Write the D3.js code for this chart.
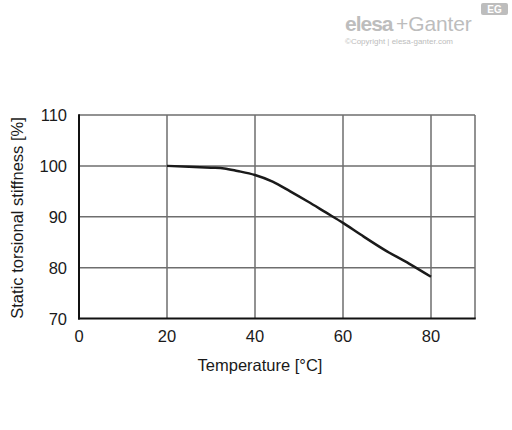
<!DOCTYPE html>
<html><head><meta charset="utf-8">
<script src="https://cdn.jsdelivr.net/npm/d3@7"></script>
<style>body{margin:0;background:#fff}svg{display:block}</style>
</head><body>
<svg id="c" width="512" height="430"></svg>
<script>
const temps  = [20, 25, 30, 33, 36, 40, 44, 48, 52, 56, 60, 64, 70, 75, 80];
const values = [100, 99.85, 99.65, 99.5, 99.0, 98.2, 96.9, 95.0, 93.0, 90.9, 88.8, 86.5, 83.2, 80.8, 78.2];
const xTicks = [0, 20, 40, 60, 80];
const yTicks = [70, 80, 90, 100, 110];
const xTitle = "Temperature [°C]";
const yTitle = "Static torsional stiffness [%]";

const svg = d3.select("#c");
const font = "Liberation Sans, Arial, sans-serif";
const x = d3.scaleLinear().domain([0, 90]).range([79, 475]);
const y = d3.scaleLinear().domain([70, 110]).range([318.5, 115]);

// grid
const g = svg.append("g");
g.selectAll(".vg").data(xTicks.slice(1)).join("line")
  .attr("x1", d => x(d)).attr("x2", d => x(d)).attr("y1", y(110)).attr("y2", y(70))
  .attr("stroke", "#6e6e6e").attr("stroke-width", 1.5);
g.selectAll(".hg").data(yTicks.slice(1)).join("line")
  .attr("x1", x(0)).attr("x2", x(90)).attr("y1", d => y(d)).attr("y2", d => y(d))
  .attr("stroke", "#6e6e6e").attr("stroke-width", 1.5);
g.append("line").attr("x1", x(90)).attr("x2", x(90)).attr("y1", y(110)).attr("y2", y(70))
  .attr("stroke", "#6e6e6e").attr("stroke-width", 1.5);
// axes (left/bottom darker)
g.append("line").attr("x1", x(0)).attr("x2", x(0)).attr("y1", y(110) - 0.75).attr("y2", y(70) + 1)
  .attr("stroke", "#111").attr("stroke-width", 2);
g.append("line").attr("x1", x(0) - 1).attr("x2", x(90) + 0.75).attr("y1", y(70)).attr("y2", y(70))
  .attr("stroke", "#111").attr("stroke-width", 2);

// curve
const pts = temps.map((t, i) => [t, values[i]]);
svg.append("path").datum(pts)
  .attr("d", d3.line().x(d => x(d[0])).y(d => y(d[1])).curve(d3.curveMonotoneX))
  .attr("fill", "none").attr("stroke", "#1a1a1a").attr("stroke-width", 2.5);

// tick labels
svg.selectAll(".xt").data(xTicks).join("text")
  .attr("x", d => x(d)).attr("y", 342).attr("text-anchor", "middle")
  .attr("font-family", font).attr("font-size", 16.5).attr("fill", "#1a1a1a").text(d => d);
svg.selectAll(".yt").data(yTicks).join("text")
  .attr("x", 67).attr("y", d => y(d) + 6).attr("text-anchor", "end")
  .attr("font-family", font).attr("font-size", 16.5).attr("fill", "#1a1a1a").text(d => d);

// titles
svg.append("text").attr("x", 260).attr("y", 371).attr("text-anchor", "middle")
  .attr("font-family", font).attr("font-size", 16.5).attr("fill", "#1a1a1a").text(xTitle);
svg.append("text").attr("transform", "translate(23,218) rotate(-90)").attr("text-anchor", "middle")
  .attr("font-family", font).attr("font-size", 16.5).attr("fill", "#1a1a1a").text(yTitle);

// logo
const lg = svg.append("g").attr("fill", "#bdbdbd");
lg.append("text").attr("x", 345).attr("y", 31).attr("font-family", font).attr("font-weight", "bold")
  .attr("font-size", 21).attr("letter-spacing", -1).text("elesa");
lg.append("text").attr("x", 396).attr("y", 31).attr("font-family", font)
  .attr("font-size", 21).attr("letter-spacing", -0.1).text("+Ganter");
lg.append("text").attr("x", 345).attr("y", 44).attr("font-family", font)
  .attr("font-size", 8).text("©Copyright | elesa-ganter.com");
lg.append("rect").attr("x", 481).attr("y", 3).attr("width", 27).attr("height", 12).attr("rx", 2);
svg.append("text").attr("x", 494.5).attr("y", 13).attr("text-anchor", "middle").attr("font-family", font)
  .attr("font-weight", "bold").attr("font-size", 10).attr("fill", "#fff").text("EG");
</script>
</body></html>
